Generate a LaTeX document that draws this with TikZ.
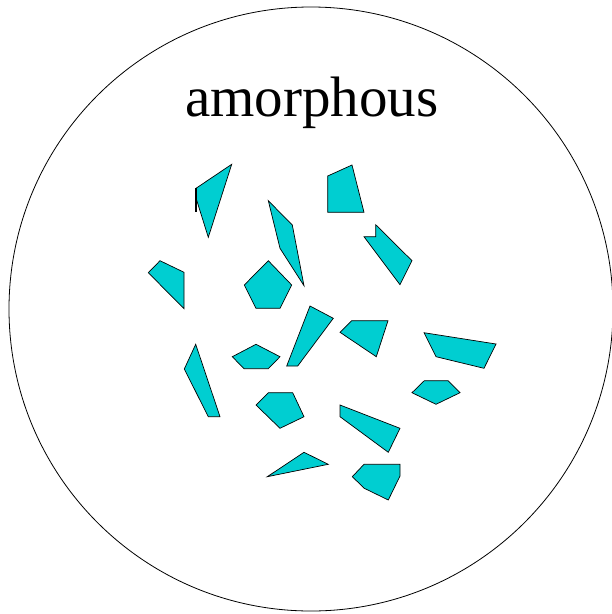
\documentclass[tikz,border=0pt]{standalone}
\usepackage{fontspec}
\setmainfont{Liberation Serif}
\usepackage{tikz}
\definecolor{grain}{RGB}{0,206,209}
\tikzset{
  crystal/.style={
    draw=black,
    fill=grain,
    line width=0.7pt,
    line join=miter
  },
  outline/.style={
    draw=black,
    line width=0.8pt
  }
}

\begin{document}
\begin{tikzpicture}[x=1pt,y=-1pt]
  \useasboundingbox (0,0) rectangle (612,614);
  \draw[outline] (311,309) circle [radius=302pt];
  \node[anchor=base, inner sep=0pt, font=\fontsize{57}{60}\selectfont] (title) at (311.7,116.3) {amorphous};
  % grains
  \filldraw[crystal] (231.7,164.3) -- (196,188.3) -- (196,198) -- (208.3,237.3) -- cycle;
  \draw[line width=1.4pt] (196,188.3) -- (196,212.3);
  \filldraw[crystal] (268.3,200.7) -- (292.3,225) -- (304,285.7) -- (280,248.3) -- cycle;
  \filldraw[crystal] (148.3,272.7) -- (160,260.7) -- (184,272.3) -- (184,308.7) -- cycle;
  \filldraw[crystal] (268.3,260.7) -- (291.7,285) -- (280,308.3) -- (256,308.3) -- (244.3,285) -- cycle;
  \filldraw[crystal] (327.7,176) -- (352,165) -- (364,212.3) -- (327.7,212.3) -- cycle;
  \filldraw[crystal] (364,236.7) -- (375.7,236.7) -- (375.7,224.7) -- (412,260.7) -- (400,284.7) -- cycle;
  \filldraw[crystal] (195.7,344.3) -- (220,416.7) -- (208.3,416.7) -- (184.3,369) -- cycle;
  \filldraw[crystal] (256,344.3) -- (280,356.7) -- (268.3,368.7) -- (244,368.7) -- (232.3,356.7) -- cycle;
  \filldraw[crystal] (310,306) -- (333.3,318.3) -- (297.7,366) -- (286.7,366) -- cycle;
  \filldraw[crystal] (268.3,392.7) -- (292.7,392.7) -- (304,416.7) -- (280,428.3) -- (256,405) -- cycle;
  \filldraw[crystal] (340,332.3) -- (351.7,320.7) -- (388,320.7) -- (376.3,356.7) -- cycle;
  \filldraw[crystal] (424,332.7) -- (496,344) -- (484,368.3) -- (436,356.7) -- cycle;
  \filldraw[crystal] (424.3,380.7) -- (448,380.7) -- (460,392.7) -- (436,404.3) -- (412,392.7) -- cycle;
  \filldraw[crystal] (340,405) -- (400,428.3) -- (388.3,452.3) -- (340,416.7) -- cycle;
  \filldraw[crystal] (304,452.3) -- (328.3,464.3) -- (267.3,476.7) -- cycle;
  \filldraw[crystal] (364,464.3) -- (400,464.3) -- (400,476) -- (388.3,500) -- (364.3,488.3) -- (352.3,476.7) -- cycle;
\end{tikzpicture}
\end{document}
